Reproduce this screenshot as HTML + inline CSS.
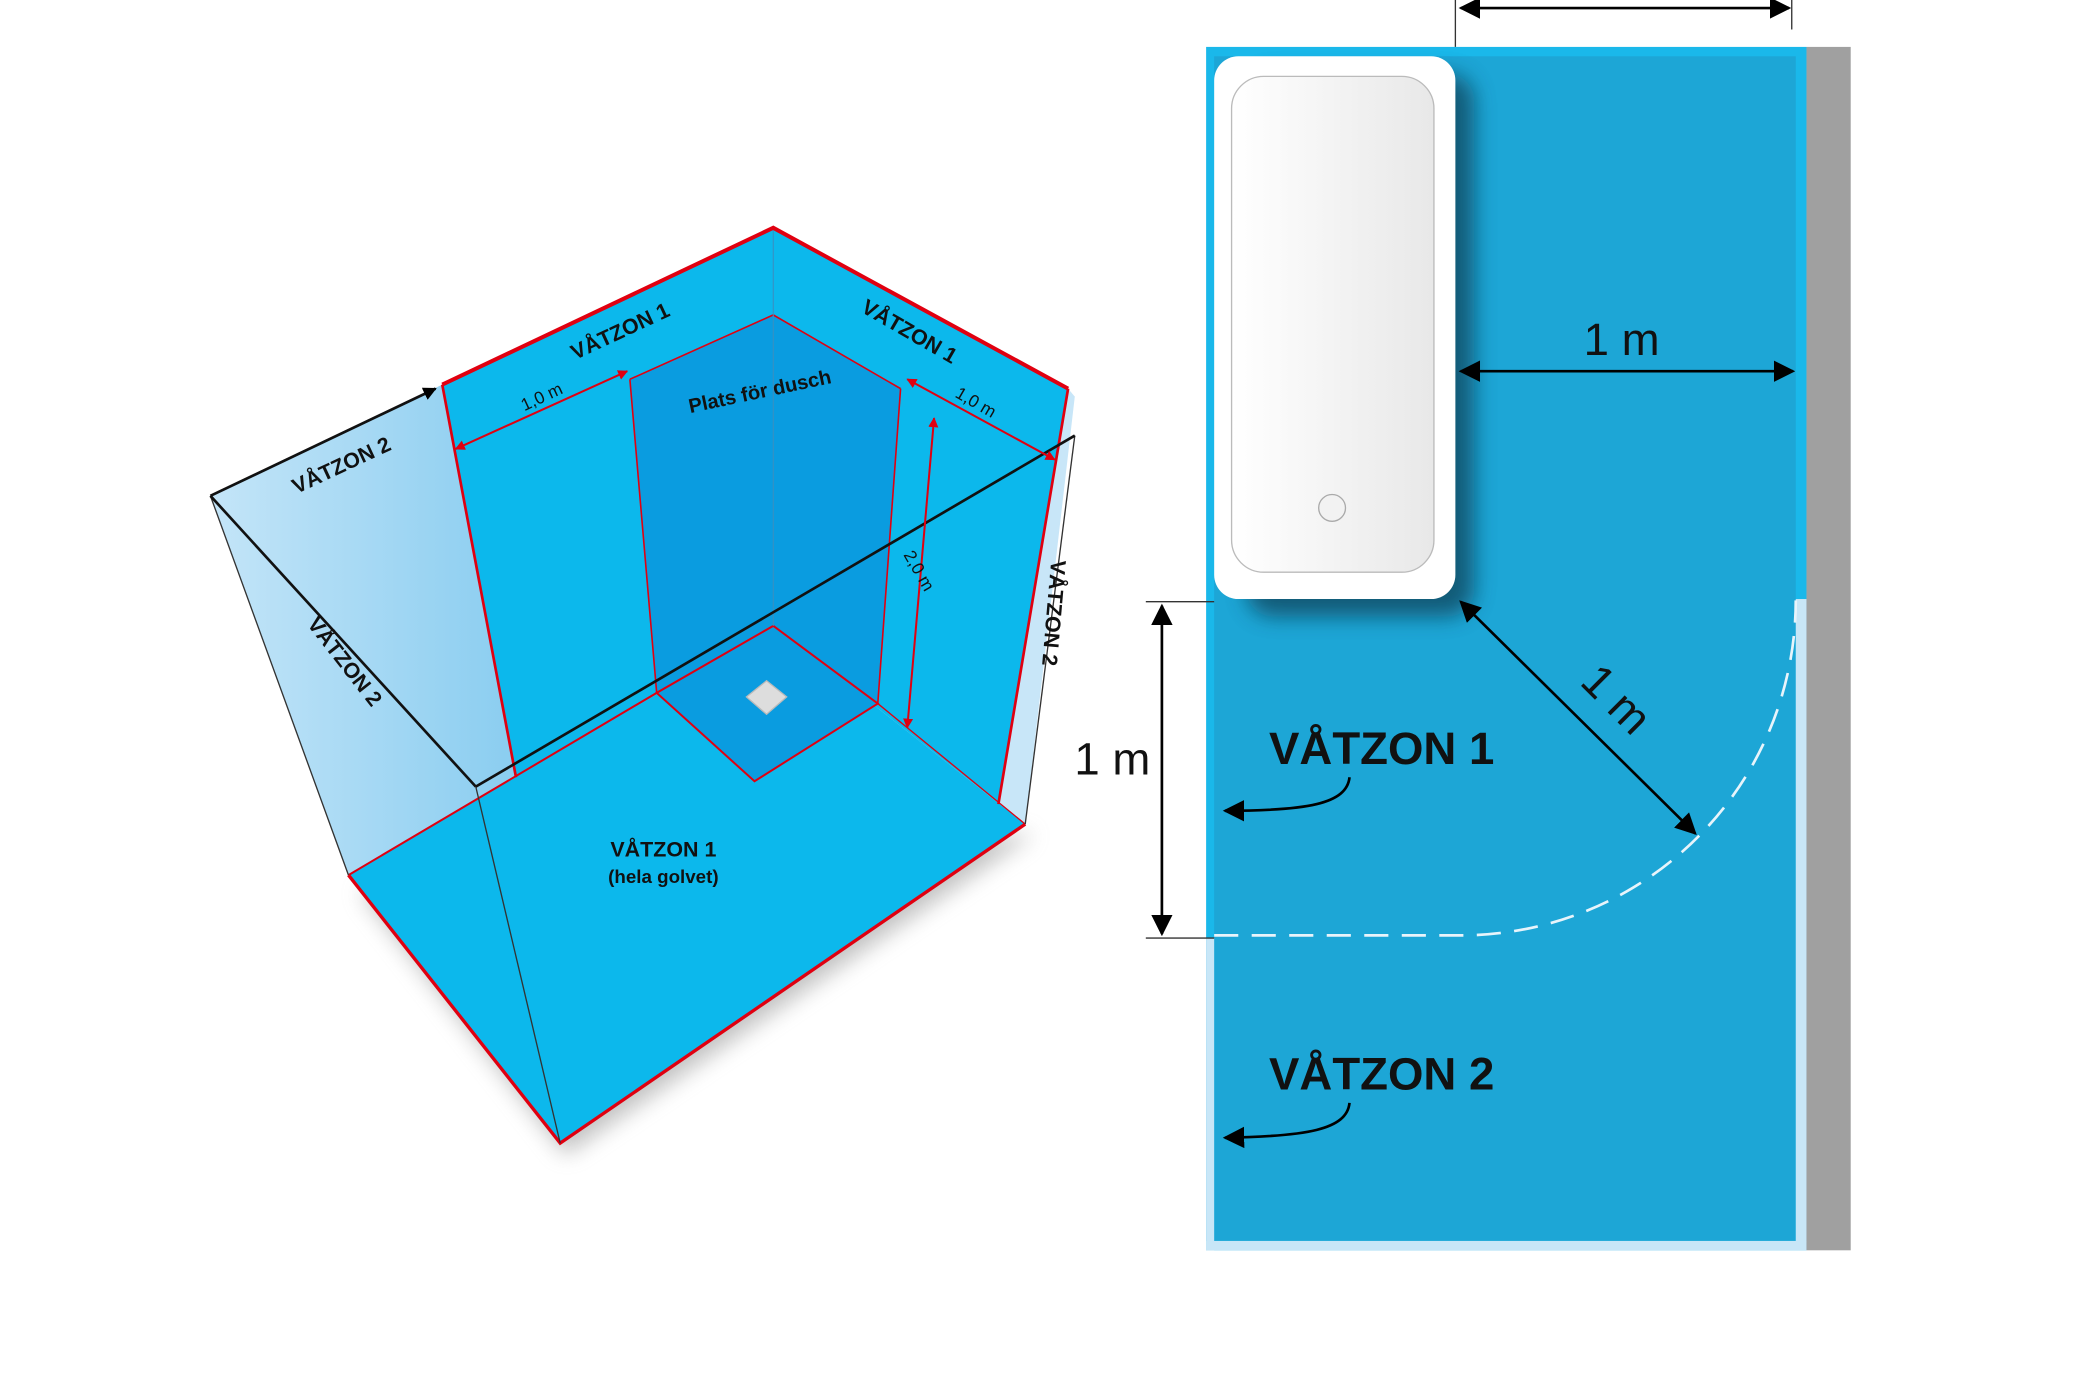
<!DOCTYPE html>
<html><head><meta charset="utf-8"><style>html,body{margin:0;padding:0;background:#fff}svg{display:block}</style></head>
<body>
<svg width="2100" height="1400" viewBox="0 0 1567 1044.7" xmlns="http://www.w3.org/2000/svg" font-family="Liberation Sans, sans-serif">
<defs>
<linearGradient id="lg" x1="0" x2="1"><stop offset="0" stop-color="#c4e5f8"/><stop offset="1" stop-color="#8acdf0"/></linearGradient>
<linearGradient id="tub" x1="0" x2="1"><stop offset="0" stop-color="#fff"/><stop offset="1" stop-color="#e8e8e8"/></linearGradient>
<filter id="bl" x="-20%" y="-20%" width="140%" height="140%"><feGaussianBlur stdDeviation="8"/></filter>
<marker id="ra" viewBox="0 0 10 10" refX="9" refY="5" markerWidth="5" markerHeight="5" orient="auto-start-reverse"><path d="M0,0L10,5L0,10z" fill="#e00010"/></marker>
<marker id="ka" viewBox="0 0 10 10" refX="9" refY="5" markerWidth="5" markerHeight="5" orient="auto-start-reverse"><path d="M0,0L10,5L0,10z" fill="#000"/></marker>
<marker id="kb" viewBox="0 0 10 10" refX="9" refY="5" markerWidth="8" markerHeight="8" orient="auto-start-reverse"><path d="M0,0L10,5L0,10z" fill="#000"/></marker>
</defs>
<polygon points="268,665 422,862 772,622" fill="#888" opacity="0.5" filter="url(#bl)"/>
<polygon points="157,370 330,287 385,580 260,653" fill="url(#lg)"/>
<polygon points="330,287 577,170 577,467 385,580" fill="#0cb8ec"/>
<polygon points="577,170 797,290 765,615 577,467" fill="#0cb8ec"/>
<polygon points="797,290 802,296 765,615 745,600" fill="#c8e6f8"/>
<polygon points="260,653 577,467 765,615 418,853" fill="#0cb8ec"/>
<polygon points="470,283 577,235 672,290 655,525 563,583 490,517" fill="#0a9ce0"/>
<polyline points="470,283 577,235 672,290" fill="none" stroke="#e00010" stroke-width="1.2"/>
<line x1="470" y1="283" x2="490" y2="517" stroke="#e00010" stroke-width="1.2"/>
<line x1="672" y1="290" x2="655" y2="525" stroke="#e00010" stroke-width="1.2"/>
<polygon points="577,467 490,517 563,583 655,525" fill="none" stroke="#e00010" stroke-width="1.5"/>
<line x1="577" y1="170" x2="577" y2="467" stroke="#3a8fc0" stroke-width="0.8"/>
<polygon points="572,508 587,520 572,533 557,520" fill="#ddd" stroke="#bbb"/>
<polyline points="330,287 577,170 797,290" fill="none" stroke="#e00010" stroke-width="3"/>
<line x1="330" y1="287" x2="385" y2="580" stroke="#e00010" stroke-width="2"/>
<line x1="797" y1="290" x2="745" y2="600" stroke="#e00010" stroke-width="2"/>
<polyline points="260,653 418,853 765,615" fill="none" stroke="#e00010" stroke-width="2.5"/>
<line x1="260" y1="653" x2="490" y2="517" stroke="#e00010" stroke-width="1.5"/>
<line x1="655" y1="525" x2="765" y2="615" stroke="#e00010" stroke-width="1"/>
<line x1="157" y1="370" x2="260" y2="653" stroke="#333" stroke-width="1"/>
<line x1="355" y1="587" x2="418" y2="853" stroke="#333" stroke-width="1"/>
<line x1="765" y1="615" x2="802" y2="325" stroke="#333" stroke-width="1"/>
<line x1="157" y1="370" x2="355" y2="587" stroke="#111" stroke-width="2"/>
<line x1="355" y1="587" x2="802" y2="325" stroke="#111" stroke-width="2"/>
<line x1="157" y1="370" x2="325" y2="290" stroke="#111" stroke-width="2" marker-end="url(#ka)"/>
<line x1="340" y1="335" x2="468" y2="277" stroke="#e00010" stroke-width="1.5" marker-start="url(#ra)" marker-end="url(#ra)"/>
<line x1="677" y1="283" x2="787" y2="343" stroke="#e00010" stroke-width="1.5" marker-start="url(#ra)" marker-end="url(#ra)"/>
<line x1="697" y1="312" x2="677" y2="543" stroke="#e00010" stroke-width="1.5" marker-start="url(#ra)" marker-end="url(#ra)"/>
<g font-weight="bold" fill="#111" font-size="16">
<text transform="translate(465,252) rotate(-25)" text-anchor="middle">VÅTZON 1</text>
<text transform="translate(676,252) rotate(30)" text-anchor="middle">VÅTZON 1</text>
<text transform="translate(568,297) rotate(-12)" text-anchor="middle" font-size="15">Plats för dusch</text>
<text transform="translate(257,352) rotate(-25)" text-anchor="middle">VÅTZON 2</text>
<text transform="translate(253,497) rotate(52)" text-anchor="middle">VÅTZON 2</text>
<text transform="translate(781,457) rotate(95)" text-anchor="middle">VÅTZON 2</text>
<text x="495" y="639" text-anchor="middle">VÅTZON 1</text>
<text x="495" y="659" text-anchor="middle" font-size="14">(hela golvet)</text>
</g>
<g fill="#111" font-size="13">
<text transform="translate(406,300) rotate(-25)" text-anchor="middle">1,0 m</text>
<text transform="translate(726,304) rotate(30)" text-anchor="middle">1,0 m</text>
<text transform="translate(682,428) rotate(60)" text-anchor="middle">2,0 m</text>
</g>
<rect x="900" y="35" width="448" height="898" fill="#1ab8ea"/>
<rect x="906" y="42" width="434" height="884" fill="#1da6d6"/>
<rect x="900" y="700" width="6" height="233" fill="#c8e6f7"/>
<rect x="900" y="926" width="448" height="7" fill="#c8e6f7"/>
<rect x="1340" y="447" width="8" height="480" fill="#c8e6f7"/>
<rect x="1348" y="35" width="33" height="898" fill="#a0a0a0"/>
<rect x="930" y="55" width="170" height="405" rx="20" fill="#0c3a50" opacity="0.7" filter="url(#bl)"/>
<rect x="906" y="42" width="180" height="405" rx="18" fill="#fff"/>
<rect x="919" y="57" width="151" height="370" rx="24" fill="url(#tub)" stroke="#bbb" stroke-width="1"/>
<circle cx="994" cy="379" r="10" fill="#f2f2f2" stroke="#aaa"/>
<path d="M906,698 L1090,698 A250,250 0 0 0 1340,448" fill="none" stroke="#e8f4fb" stroke-width="2" stroke-dasharray="18,10"/>
<line x1="1086" y1="0" x2="1086" y2="35" stroke="#333" stroke-width="1"/>
<line x1="1337" y1="0" x2="1337" y2="22" stroke="#333" stroke-width="1"/>
<line x1="1090" y1="6" x2="1335" y2="6" stroke="#000" stroke-width="2" marker-start="url(#kb)" marker-end="url(#kb)"/>
<line x1="1090" y1="277" x2="1338" y2="277" stroke="#000" stroke-width="2" marker-start="url(#kb)" marker-end="url(#kb)"/>
<line x1="855" y1="449" x2="906" y2="449" stroke="#333" stroke-width="1"/>
<line x1="855" y1="700" x2="906" y2="700" stroke="#333" stroke-width="1"/>
<line x1="867" y1="452" x2="867" y2="697" stroke="#000" stroke-width="2" marker-start="url(#kb)" marker-end="url(#kb)"/>
<line x1="1090" y1="449" x2="1265" y2="622" stroke="#000" stroke-width="2" marker-start="url(#kb)" marker-end="url(#kb)"/>
<g fill="#111" font-size="34">
<text x="1210" y="265" text-anchor="middle">1 m</text>
<text x="830" y="578" text-anchor="middle">1 m</text>
<text transform="translate(1198,530) rotate(45)" text-anchor="middle">1 m</text>
</g>
<g font-weight="bold" fill="#111" font-size="34">
<text x="1031" y="570" text-anchor="middle">VÅTZON 1</text>
<text x="1031" y="813" text-anchor="middle">VÅTZON 2</text>
</g>
<path d="M1007,580 C1005,600 975,605 914,605" fill="none" stroke="#000" stroke-width="2" marker-end="url(#kb)"/>
<path d="M1007,823 C1005,843 975,848 914,849" fill="none" stroke="#000" stroke-width="2" marker-end="url(#kb)"/>
</svg>
</body></html>
